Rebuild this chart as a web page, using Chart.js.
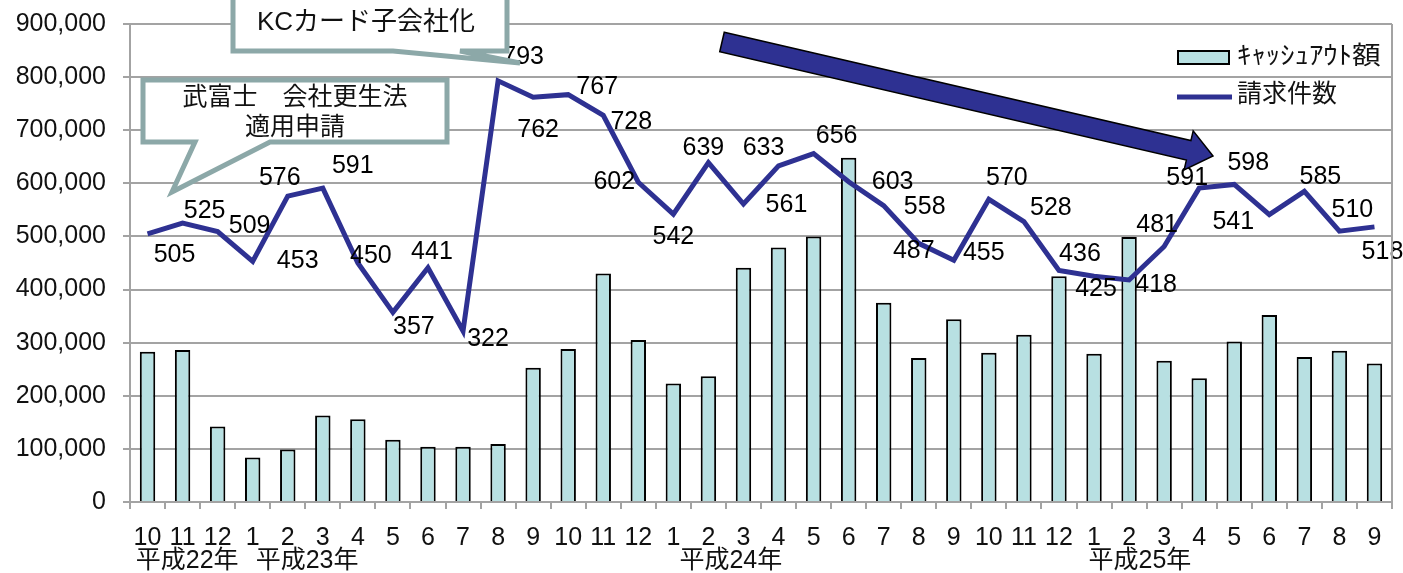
<!DOCTYPE html>
<html lang="ja">
<head>
  <meta charset="UTF-8">
  <title>キャッシュアウト額と請求件数</title>
  <script src="https://cdn.jsdelivr.net/npm/chart.js"></script>
  <style>
    body { margin: 0; background: #fff; }
  </style>
</head>
<body>
  <canvas id="chart" width="1403" height="573"></canvas>

  <script>
    // months from 平成22年10月 to 平成25年9月
    const months = ['10', '11', '12',
      '1', '2', '3', '4', '5', '6', '7', '8', '9', '10', '11', '12',
      '1', '2', '3', '4', '5', '6', '7', '8', '9', '10', '11', '12',
      '1', '2', '3', '4', '5', '6', '7', '8', '9'];
    const yearLabels = ['平成22年', '平成23年', '平成24年', '平成25年'];
    const yearAt = [1.13, 4.55, 16.64, 28.31];   // category position of each year label

    // キャッシュアウト額 (bars)
    const cashOut = [283000, 286000, 142000, 84000, 99000, 163000, 156000, 117000, 104000, 104000,
      109000, 253000, 288000, 430000, 305000, 223000, 237000, 441000, 479000, 500000,
      648000, 375000, 271000, 344000, 281000, 315000, 425000, 279000, 499000, 266000,
      233000, 302000, 352000, 273000, 285000, 261000];

    // 請求件数 (line, in thousands)
    const claims = [505, 525, 509, 453, 576, 591, 450, 357, 441, 322,
      793, 762, 767, 728, 602, 542, 639, 561, 633, 656,
      603, 558, 487, 455, 570, 528, 436, 425, 418, 481,
      591, 598, 541, 585, 510, 518];

    const yTicks = [0, 100000, 200000, 300000, 400000, 500000, 600000, 700000, 800000, 900000];

    // where each value label sits relative to its point
    const labelOffsets = [
      [27, 21], [22, -12], [32, -6], [45, 0], [-8, -18], [30, -22], [13, -7], [21, 15], [4, -16], [25, 8],
      [25, -24], [5, 33], [29, -8], [28, 7], [-24, 0], [0, 23], [-5, -15], [43, 1], [-15, -18], [23, -17],
      [44, 0], [41, 1], [-5, 8], [30, -7], [18, -21], [27, -13], [21, -16], [2, 13], [27, 5], [-7, -21],
      [-12, -10], [14, -21], [-36, 7], [16, -14], [13, -21], [8, 25]
    ];

    const FONT = '"Liberation Sans", "Noto Sans CJK JP", sans-serif';
    const BAR_COLOR = '#b8e0e2';
    const LINE_COLOR = '#2e3192';
    const GRID = '#a3a3a3';
    const CALLOUT = '#8ca8a8';

    function drawCallout(ctx, pts, lines, cx, cy, lh) {
      ctx.beginPath();
      pts.forEach(([x, y], i) => i ? ctx.lineTo(x, y) : ctx.moveTo(x, y));
      ctx.closePath();
      ctx.fillStyle = '#fff';
      ctx.fill();
      ctx.lineWidth = 5;
      ctx.lineJoin = 'miter';
      ctx.strokeStyle = CALLOUT;
      ctx.stroke();
      ctx.fillStyle = '#111';
      ctx.textAlign = 'center';
      ctx.textBaseline = 'middle';
      lines.forEach((t, i) => ctx.fillText(t, cx, cy + i * lh));
    }

    function drawArrow(ctx, sx, sy, tx, ty, half, headLen, headHalf) {
      const len = Math.hypot(tx - sx, ty - sy);
      const dx = (tx - sx) / len, dy = (ty - sy) / len;
      const nx = -dy, ny = dx;
      const bx = tx - dx * headLen, by = ty - dy * headLen;
      ctx.beginPath();
      ctx.moveTo(sx - nx * half, sy - ny * half);
      ctx.lineTo(bx - nx * half, by - ny * half);
      ctx.lineTo(bx - nx * headHalf, by - ny * headHalf);
      ctx.lineTo(tx, ty);
      ctx.lineTo(bx + nx * headHalf, by + ny * headHalf);
      ctx.lineTo(bx + nx * half, by + ny * half);
      ctx.lineTo(sx + nx * half, sy + ny * half);
      ctx.closePath();
      ctx.fillStyle = LINE_COLOR;
      ctx.fill();
      ctx.lineWidth = 1.5;
      ctx.strokeStyle = '#000';
      ctx.stroke();
    }

    const overlay = {
      id: 'overlay',
      afterDatasetsDraw(chart) {
        const ctx = chart.ctx;
        const meta = chart.getDatasetMeta(1);
        ctx.save();
        ctx.font = '25px ' + FONT;
        ctx.fillStyle = '#000';
        ctx.textAlign = 'center';
        ctx.textBaseline = 'middle';
        meta.data.forEach((pt, i) => {
          const [dx, dy] = labelOffsets[i];
          ctx.fillText(String(claims[i]), pt.x + dx, pt.y + dy);
        });
        ctx.restore();
      },
      afterDraw(chart) {
        const ctx = chart.ctx;
        const area = chart.chartArea;
        const x = chart.scales.x;
        ctx.save();

        // right frame line
        ctx.strokeStyle = GRID;
        ctx.lineWidth = 2;
        ctx.beginPath();
        ctx.moveTo(area.right, area.top);
        ctx.lineTo(area.right, area.bottom);
        ctx.stroke();

        // year labels under the months
        ctx.font = '25px ' + FONT;
        ctx.fillStyle = '#111';
        ctx.textAlign = 'center';
        ctx.textBaseline = 'middle';
        yearLabels.forEach((t, i) => ctx.fillText(t, x.getPixelForValue(yearAt[i]), 561));

        // legend
        const ds = chart.data.datasets;
        ctx.fillStyle = BAR_COLOR;
        ctx.fillRect(1178, 51, 51, 13);
        ctx.strokeStyle = '#000';
        ctx.lineWidth = 2;
        ctx.strokeRect(1178, 51, 51, 13);
        ctx.strokeStyle = LINE_COLOR;
        ctx.lineWidth = 5;
        ctx.beginPath();
        ctx.moveTo(1177, 97);
        ctx.lineTo(1232, 97);
        ctx.stroke();
        ctx.fillStyle = '#111';
        ctx.textAlign = 'left';
        // the half-width label is a little wider in the original font
        ctx.save();
        ctx.translate(1237, 57);
        ctx.scale(1.15, 1);
        ctx.fillText(ds[0].label, 0, 0);
        ctx.restore();
        ctx.fillText(ds[1].label, 1237, 95);

        // callouts
        ctx.font = '26px ' + FONT;
        drawCallout(ctx, [[233, -10], [507, -10], [507, 51], [460, 51], [520, 63], [393, 51], [233, 51]],
          ['KCカード子会社化'], 366, 23, 0);
        ctx.font = '25px ' + FONT;
        drawCallout(ctx, [[143, 80], [447, 80], [447, 142], [270, 142], [172, 192], [195, 142], [143, 142]],
          ['武富士　会社更生法', '適用申請'], 295, 98, 30);

        // trend arrow
        drawArrow(ctx, 722, 42, 1213, 156, 10, 25, 20);
        ctx.restore();
      }
    };

    new Chart(document.getElementById('chart'), {
      type: 'bar',
      data: {
        labels: months,
        datasets: [{
          label: 'ｷｬｯｼｭｱｳﾄ額',
          data: cashOut,
          backgroundColor: BAR_COLOR,
          borderColor: '#000',
          borderWidth: 2,
          barPercentage: 0.44,
          categoryPercentage: 1,
          order: 1
        }, {
          type: 'line',
          label: '請求件数',
          data: claims.map(v => v * 1000),
          borderColor: LINE_COLOR,
          borderWidth: 5,
          pointRadius: 0,
          tension: 0,
          borderJoinStyle: 'miter',
          order: 0
        }]
      },
      options: {
        responsive: false,
        animation: false,
        layout: { padding: { top: 24, right: 11, left: 0, bottom: 0 } },
        plugins: {
          legend: { display: false },
          tooltip: { enabled: false }
        },
        scales: {
          x: {
            afterFit(scale) { scale.height = 71; },
            grid: { drawOnChartArea: false, drawTicks: true, tickLength: 7, color: GRID, lineWidth: 2 },
            border: { color: GRID, width: 2 },
            ticks: {
              autoSkip: false, maxRotation: 0, padding: 17, color: '#111',
              font: { family: FONT, size: 25, lineHeight: 1 }
            }
          },
          y: {
            min: 0,
            max: yTicks[yTicks.length - 1],
            afterFit(scale) {
              scale.width = 130;
              scale.paddingTop = 0;
              scale.paddingBottom = 0;
            },
            afterBuildTicks(scale) { scale.ticks = yTicks.map(v => ({ value: v })); },
            grid: { color: GRID, lineWidth: 2, tickLength: 7 },
            border: { color: GRID, width: 2 },
            ticks: {
              padding: 17, color: '#111',
              font: { family: FONT, size: 25 },
              callback: v => v.toLocaleString('en-US')
            }
          }
        }
      },
      plugins: [overlay]
    });
  </script>
</body>
</html>
